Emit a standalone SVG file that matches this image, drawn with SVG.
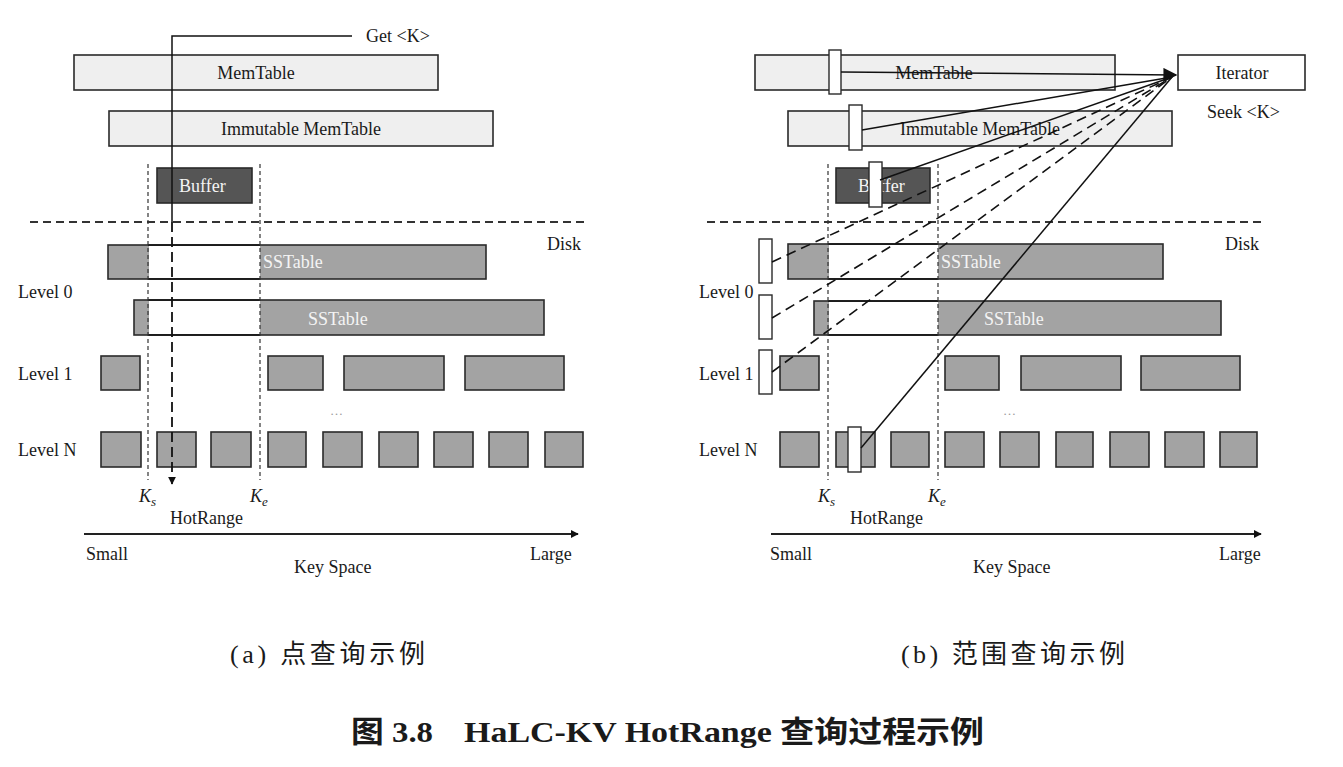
<svg xmlns="http://www.w3.org/2000/svg" width="1343" height="767" viewBox="0 0 1343 767">
<defs>
<marker id="ah" viewBox="0 0 10 10" refX="9" refY="5" markerWidth="8" markerHeight="8" markerUnits="userSpaceOnUse" orient="auto"><path d="M0,0 L10,5 L0,10 z" fill="#111"/></marker>
<marker id="ahBig" viewBox="0 0 10 10" refX="9" refY="5" markerWidth="14" markerHeight="14" markerUnits="userSpaceOnUse" orient="auto"><path d="M0,0 L10,5 L0,10 z" fill="#111"/></marker>
<style>
text{font-family:"Liberation Serif","Noto Sans CJK SC",serif;fill:#1a1a1a}
.lbl{font-size:18px}
.wt{fill:#f4f4f4}
.mem{fill:#efefef;stroke:#2a2a2a;stroke-width:1.6}
.ss{fill:#a3a3a3;stroke:#2a2a2a;stroke-width:1.6}
.wh{fill:#ffffff;stroke:none}
.buf{fill:#555555;stroke:#2a2a2a;stroke-width:1.6}
.mk{fill:#ffffff;stroke:#2a2a2a;stroke-width:1.4}
.kv{fill:none;stroke:#333;stroke-width:1.2;stroke-dasharray:4,3}
.disk{fill:none;stroke:#333;stroke-width:2;stroke-dasharray:8,5}
.sl{fill:none;stroke:#111;stroke-width:1.5}
.dl{fill:none;stroke:#111;stroke-width:1.6;stroke-dasharray:10,6}
.dots{font-size:13px;fill:#999}
.cap{font-size:26px}
.title{font-size:30px;font-weight:bold}
</style>
</defs>
<rect width="1343" height="767" fill="#ffffff"/>

<!-- ========== Panel (a) ========== -->
<g id="a-memtable"><rect class="mem" x="74" y="55" width="364" height="35"/><text class="lbl" x="256" y="79" text-anchor="middle">MemTable</text></g>
<g id="a-immutable"><rect class="mem" x="109" y="111" width="384" height="35"/><text class="lbl" x="301" y="135" text-anchor="middle">Immutable MemTable</text></g>
<g id="a-buffer"><rect class="buf" x="157" y="168" width="95" height="35"/><text class="lbl wt" x="179" y="192">Buffer</text></g>
<g id="a-disk"><line class="disk" x1="30" y1="222" x2="589" y2="222"/><text class="lbl" x="547" y="250">Disk</text></g>
<g id="a-l0-1"><rect class="ss" x="108" y="245" width="378" height="34"/><rect class="wh" x="149" y="246" width="111" height="32"/><line class="sl" x1="148" y1="245" x2="260" y2="245"/><line class="sl" x1="148" y1="279" x2="260" y2="279"/><text class="lbl wt" x="263" y="268">SSTable</text></g>
<g id="a-l0-2"><rect class="ss" x="134" y="300" width="410" height="35"/><rect class="wh" x="149" y="301" width="111" height="33"/><line class="sl" x1="148" y1="300" x2="260" y2="300"/><line class="sl" x1="148" y1="335" x2="260" y2="335"/><text class="lbl wt" x="308" y="325">SSTable</text></g>
<g id="a-l1">
<rect class="ss" x="101" y="356" width="39" height="34"/>
<rect class="ss" x="268" y="356" width="55" height="34"/>
<rect class="ss" x="344" y="356" width="100" height="34"/>
<rect class="ss" x="465" y="356" width="99" height="34"/>
</g>
<g id="a-dots"><text class="dots" x="330" y="415">…</text></g>
<g id="a-ln">
<rect class="ss" x="101" y="432" width="40" height="35"/>
<rect class="ss" x="157" y="432" width="39" height="35"/>
<rect class="ss" x="211" y="432" width="40" height="35"/>
<rect class="ss" x="268" y="432" width="38" height="35"/>
<rect class="ss" x="323" y="432" width="39" height="35"/>
<rect class="ss" x="379" y="432" width="39" height="35"/>
<rect class="ss" x="434" y="432" width="39" height="35"/>
<rect class="ss" x="489" y="432" width="39" height="35"/>
<rect class="ss" x="545" y="432" width="38" height="35"/>
</g>
<g id="a-labels">
<text class="lbl" x="18" y="298">Level 0</text>
<text class="lbl" x="18" y="380">Level 1</text>
<text class="lbl" x="18" y="456">Level N</text>
<text class="lbl" x="366" y="42">Get &lt;K&gt;</text>
<text class="lbl" x="139" y="502" font-style="italic">K<tspan font-size="13" dy="4">s</tspan></text>
<text class="lbl" x="250" y="502" font-style="italic">K<tspan font-size="13" dy="4">e</tspan></text>
<text class="lbl" x="170" y="524">HotRange</text>
<text class="lbl" x="86" y="560">Small</text>
<text class="lbl" x="530" y="560">Large</text>
<text class="lbl" x="294" y="573">Key Space</text>
</g>
<g id="a-connectors">
<line class="kv" x1="148" y1="164" x2="148" y2="480"/>
<line class="kv" x1="260" y1="164" x2="260" y2="480"/>
<polyline class="sl" points="352,36 172,36 172,222"/>
<line fill="none" stroke="#111" stroke-width="1.8" stroke-dasharray="10,5" x1="172" y1="222" x2="172" y2="484" marker-end="url(#ah)"/>
<line stroke="#222" stroke-width="2" x1="84" y1="534" x2="578" y2="534" marker-end="url(#ah)"/>
</g>

<!-- ========== Panel (b) ========== -->
<g id="b-memtable"><rect class="mem" x="755" y="55" width="360" height="35"/><text class="lbl" x="934" y="79" text-anchor="middle">MemTable</text><rect class="mk" x="829" y="50" width="12" height="44"/></g>
<g id="b-iterator"><rect x="1178" y="55" width="127" height="35" fill="#fff" stroke="#2a2a2a" stroke-width="1.6"/><text class="lbl" x="1242" y="79" text-anchor="middle">Iterator</text><text class="lbl" x="1207" y="118">Seek &lt;K&gt;</text></g>
<g id="b-immutable"><rect class="mem" x="788" y="111" width="384" height="35"/><text class="lbl" x="980" y="135" text-anchor="middle">Immutable MemTable</text><rect class="mk" x="849" y="105" width="13" height="45"/></g>
<g id="b-buffer"><rect class="buf" x="836" y="168" width="94" height="35"/><text class="lbl wt" x="858" y="192">Buffer</text><rect class="mk" x="869" y="162" width="13" height="45"/></g>
<g id="b-disk"><line class="disk" x1="707" y1="222" x2="1264" y2="222"/><text class="lbl" x="1225" y="250">Disk</text></g>
<g id="b-l0-1"><rect class="ss" x="788" y="244" width="375" height="35"/><rect class="wh" x="829" y="245" width="109" height="33"/><line class="sl" x1="828" y1="244" x2="938" y2="244"/><line class="sl" x1="828" y1="279" x2="938" y2="279"/><text class="lbl wt" x="941" y="268">SSTable</text></g>
<g id="b-l0-2"><rect class="ss" x="814" y="301" width="407" height="34"/><rect class="wh" x="829" y="302" width="109" height="32"/><line class="sl" x1="828" y1="301" x2="938" y2="301"/><line class="sl" x1="828" y1="335" x2="938" y2="335"/><text class="lbl wt" x="984" y="325">SSTable</text></g>
<g id="b-l1">
<rect class="ss" x="780" y="356" width="39" height="34"/>
<rect class="ss" x="945" y="356" width="54" height="34"/>
<rect class="ss" x="1021" y="356" width="100" height="34"/>
<rect class="ss" x="1141" y="356" width="99" height="34"/>
</g>
<g id="b-dots"><text class="dots" x="1003" y="415">…</text></g>
<g id="b-ln">
<rect class="ss" x="780" y="432" width="39" height="35"/>
<rect class="ss" x="836" y="432" width="39" height="35"/>
<rect class="ss" x="891" y="432" width="38" height="35"/>
<rect class="ss" x="945" y="432" width="39" height="35"/>
<rect class="ss" x="1000" y="432" width="39" height="35"/>
<rect class="ss" x="1056" y="432" width="37" height="35"/>
<rect class="ss" x="1110" y="432" width="39" height="35"/>
<rect class="ss" x="1165" y="432" width="39" height="35"/>
<rect class="ss" x="1220" y="432" width="37" height="35"/>
</g>
<g id="b-labels">
<text class="lbl" x="699" y="298">Level 0</text>
<text class="lbl" x="699" y="380">Level 1</text>
<text class="lbl" x="699" y="456">Level N</text>
<text class="lbl" x="818" y="502" font-style="italic">K<tspan font-size="13" dy="4">s</tspan></text>
<text class="lbl" x="928" y="502" font-style="italic">K<tspan font-size="13" dy="4">e</tspan></text>
<text class="lbl" x="850" y="524">HotRange</text>
<text class="lbl" x="770" y="560">Small</text>
<text class="lbl" x="1219" y="560">Large</text>
<text class="lbl" x="973" y="573">Key Space</text>
</g>
<g id="b-markers">
<rect class="mk" x="759" y="239" width="13" height="44"/>
<rect class="mk" x="759" y="295" width="13" height="44"/>
<rect class="mk" x="759" y="350" width="13" height="44"/>
<rect class="mk" x="848" y="427" width="13" height="45"/>
</g>
<g id="b-connectors">
<line class="kv" x1="828" y1="164" x2="828" y2="480"/>
<line class="kv" x1="938" y1="164" x2="938" y2="480"/>
<line class="sl" x1="841" y1="72" x2="1176" y2="75" marker-end="url(#ahBig)"/>
<line class="sl" x1="862" y1="130" x2="1172" y2="77"/>
<line class="sl" x1="880" y1="180" x2="1172" y2="77"/>
<line class="dl" x1="772" y1="262" x2="1172" y2="77"/>
<line class="dl" x1="772" y1="318" x2="1172" y2="77"/>
<line class="dl" x1="772" y1="372" x2="1172" y2="77"/>
<line class="sl" x1="861" y1="448" x2="1172" y2="77"/>
<line stroke="#222" stroke-width="2" x1="771" y1="534" x2="1261" y2="534" marker-end="url(#ah)"/>
</g>

<!-- captions -->
<g id="captions">
<text class="cap" x="230" y="663" textLength="195" lengthAdjust="spacing">(a) 点查询示例</text>
<text class="cap" x="901" y="663" textLength="224" lengthAdjust="spacing">(b) 范围查询示例</text>
<text class="title" x="351" y="742" textLength="82" lengthAdjust="spacingAndGlyphs">图 3.8</text>
<text class="title" x="464" y="742" textLength="520" lengthAdjust="spacingAndGlyphs">HaLC-KV HotRange 查询过程示例</text>
</g>
</svg>
